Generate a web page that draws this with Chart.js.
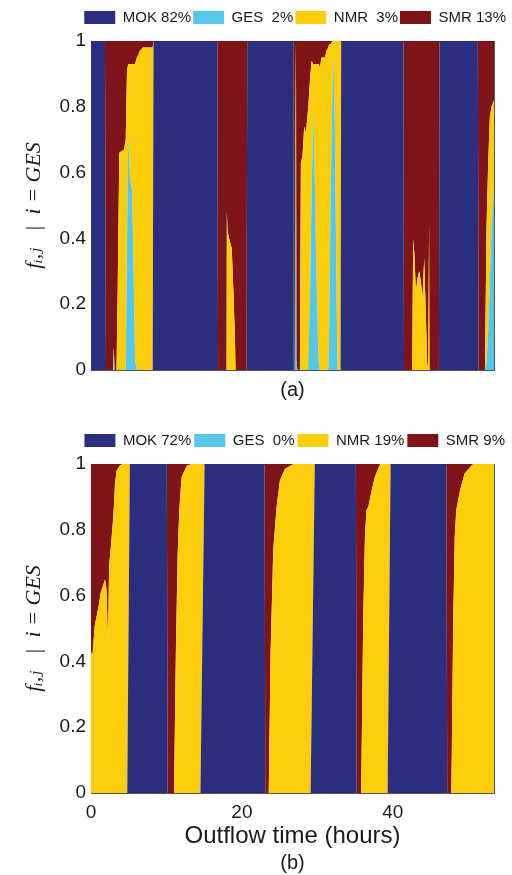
<!DOCTYPE html>
<html>
<head>
<meta charset="utf-8">
<script src="https://cdn.jsdelivr.net/npm/chart.js@4.4.1/dist/chart.umd.min.js"></script>
<style>
  html, body { margin: 0; padding: 0; background: #fff; }
  body { width: 512px; height: 875px; position: relative; overflow: hidden; }
  canvas { position: absolute; left: 0; }
  #chartA { top: 0; }
  #chartB { top: 423px; }
</style>
</head>
<body>
<canvas id="chartA" width="512" height="410"></canvas>
<canvas id="chartB" width="512" height="452"></canvas>
<script>
'use strict';

// fractions per sample (MOK stacked at the bottom, SMR on top)
var timeA = [0, 1.85, 1.99, 2.92, 3.02, 3.12, 3.38, 3.54, 3.75, 4.37,
  4.60, 4.77, 4.94, 5.17, 5.43, 5.63, 5.83, 6.09, 6.49, 6.89,
  8.17, 8.28, 16.75, 16.84, 17.95, 18.00, 18.10, 18.40, 18.65, 18.90,
  19.10, 19.20, 20.62, 20.70, 26.80, 26.86, 27.00, 27.06, 27.16, 27.22,
  27.35, 27.68, 27.81, 28.03, 28.25, 28.48, 28.79, 28.87, 29.01, 29.23,
  29.45, 29.67, 29.89, 30.16, 30.33, 30.55, 30.99, 31.21, 31.43, 31.57,
  31.75, 31.97, 32.10, 32.32, 32.54, 32.67, 33.07, 33.15, 41.40, 41.48,
  42.56, 42.69, 42.83, 43.05, 43.27, 43.49, 43.71, 43.93, 44.15, 44.33,
  44.55, 44.68, 44.80, 44.90, 46.10, 46.18, 51.26, 51.35, 52.20, 52.41,
  52.63, 52.85, 53.07, 53.40];
var mokA = [1, 1, 0, 0, 0, 0, 0, 0, 0, 0,
  0, 0, 0, 0, 0, 0, 0, 0, 0, 0,
  0, 1, 1, 0, 0, 0, 0, 0, 0, 0,
  0, 0, 0, 1, 1, 0, 0, 0, 0, 0,
  0, 0, 0, 0, 0, 0, 0, 0, 0, 0,
  0, 0, 0, 0, 0, 0, 0, 0, 0, 0,
  0, 0, 0, 0, 0, 0, 0, 1, 1, 0,
  0, 0, 0, 0, 0, 0, 0, 0, 0, 0,
  0, 0, 0, 0, 0, 1, 1, 0, 0, 0,
  0, 0, 0, 0];
var gesA = [0, 0, 0, 0, 0.07, 0, 0, 0, 0, 0,
  0, 0.40, 0.71, 0.58, 0.55, 0.33, 0.03, 0, 0, 0,
  0, 0, 0, 0, 0, 0, 0, 0, 0, 0,
  0, 0, 0, 0, 0, 0, 0, 1, 1, 0.03,
  0, 0, 0, 0, 0, 0, 0, 0, 0.22, 0.53,
  0.79, 0.56, 0.27, 0.02, 0, 0, 0, 0, 0, 0.12,
  0.53, 0.83, 0.96, 0.74, 0.22, 0, 0, 0, 0, 0,
  0, 0, 0, 0, 0, 0, 0, 0, 0, 0,
  0, 0, 0, 0, 0, 0, 0, 0, 0, 0.02,
  0.12, 0.27, 0.43, 0.55];
var nmrA = [0, 0, 0, 0, 0, 0, 0, 0.25, 0.66, 0.67,
  0.70, 0.51, 0.22, 0.35, 0.38, 0.60, 0.90, 0.95, 0.97, 0.98,
  0.98, 0, 0, 0, 0, 0.48, 0.42, 0.39, 0.37, 0.22,
  0.07, 0, 0, 0, 0, 0, 0, 0, 0, 0,
  0, 0, 0.63, 0.65, 0.74, 0.72, 0.80, 0.83, 0.66, 0.41,
  0.14, 0.37, 0.66, 0.91, 0.92, 0.95, 0.95, 0.97, 0.98, 0.87,
  0.46, 0.17, 0.04, 0.26, 0.78, 1, 1, 0, 0, 0,
  0, 0.40, 0.36, 0.24, 0.28, 0.30, 0.27, 0.22, 0.34, 0.20,
  0.02, 0, 0.45, 0, 0, 0, 0, 0, 0, 0.41,
  0.51, 0.50, 0.37, 0.27];
var smrA = [0, 0, 1, 1, 0.93, 1, 1, 0.75, 0.34, 0.33,
  0.30, 0.09, 0.07, 0.07, 0.07, 0.07, 0.07, 0.05, 0.03, 0.02,
  0.02, 0, 0, 1, 1, 0.52, 0.58, 0.61, 0.63, 0.78,
  0.93, 1, 1, 0, 0, 1, 1, 0, 0, 0.97,
  1, 1, 0.37, 0.35, 0.26, 0.28, 0.20, 0.17, 0.12, 0.06,
  0.07, 0.07, 0.07, 0.07, 0.08, 0.05, 0.05, 0.03, 0.02, 0.01,
  0.01, 0, 0, 0, 0, 0, 0, 0, 0, 1,
  1, 0.60, 0.64, 0.76, 0.72, 0.70, 0.73, 0.78, 0.66, 0.80,
  0.98, 1, 0.55, 1, 1, 0, 0, 1, 1, 0.57,
  0.37, 0.23, 0.20, 0.18];

var timeB = [0, 0.20, 0.50, 0.95, 1.30, 1.60, 1.85, 2.05, 2.25, 2.40,
  2.60, 2.96, 3.18, 3.40, 3.80, 4.10, 4.80, 5.15, 10.05, 10.15,
  11.00, 11.26, 11.48, 11.70, 12.00, 12.70, 13.20, 14.50, 15.05, 23.00,
  23.10, 23.55, 23.80, 24.15, 24.60, 25.03, 25.70, 26.80, 29.10, 29.65,
  35.10, 35.20, 35.80, 36.07, 36.30, 36.50, 36.75, 37.20, 37.60, 38.30,
  39.30, 39.70, 47.10, 47.20, 47.75, 48.00, 48.20, 48.40, 48.90, 49.50,
  50.60, 53.40];
var mokB = [0, 0, 0, 0, 0, 0, 0, 0, 0, 0,
  0, 0, 0, 0, 0, 0, 0, 1, 1, 0,
  0, 0, 0, 0, 0, 0, 0, 0, 1, 1,
  0, 0, 0, 0, 0, 0, 0, 0, 0, 1,
  1, 0, 0, 0, 0, 0, 0, 0, 0, 0,
  0, 1, 1, 0, 0, 0, 0, 0, 0, 0,
  0, 0];
var gesB = [0, 0, 0, 0, 0, 0, 0, 0, 0, 0,
  0, 0, 0, 0, 0, 0, 0, 0, 0, 0,
  0, 0, 0, 0, 0, 0, 0, 0, 0, 0,
  0, 0, 0, 0, 0, 0, 0, 0, 0, 0,
  0, 0, 0, 0, 0, 0, 0, 0, 0, 0,
  0, 0, 0, 0, 0, 0, 0, 0, 0, 0,
  0, 0];
var nmrB = [0.43, 0.42, 0.51, 0.56, 0.61, 0.63, 0.65, 0.62, 0.46, 0.69,
  0.74, 0.84, 0.94, 0.98, 0.995, 1, 1, 0, 0, 0,
  0, 0.45, 0.72, 0.86, 0.96, 0.995, 1, 1, 0, 0,
  0, 0, 0.43, 0.74, 0.87, 0.95, 0.985, 1, 1, 0,
  0, 0, 0, 0.53, 0.78, 0.86, 0.87, 0.92, 0.96, 1,
  1, 0, 0, 0, 0, 0.53, 0.78, 0.86, 0.92, 0.97,
  1, 1];
var smrB = [0.57, 0.58, 0.49, 0.44, 0.39, 0.37, 0.35, 0.38, 0.54, 0.31,
  0.26, 0.16, 0.06, 0.02, 0.005, 0, 0, 0, 0, 1,
  1, 0.55, 0.28, 0.14, 0.04, 0.005, 0, 0, 0, 0,
  1, 1, 0.57, 0.26, 0.13, 0.05, 0.015, 0, 0, 0,
  0, 1, 1, 0.47, 0.22, 0.14, 0.13, 0.08, 0.04, 0,
  0, 0, 0, 1, 1, 0.47, 0.22, 0.14, 0.08, 0.03,
  0, 0];

var legendA = ['MOK 82%', 'GES  2%', 'NMR  3%', 'SMR 13%'];
var legendB = ['MOK 72%', 'GES  0%', 'NMR 19%', 'SMR 9%'];
var yTicks = [0, 0.2, 0.4, 0.6, 0.8, 1];
var yTickLabels = ['0', '0.2', '0.4', '0.6', '0.8', '1'];
var xTicksB = [0, 20, 40];
var xMax = 53.4;

var seriesColors = ['#2b2e7f', '#55c8ea', '#fccd0a', '#7e1417'];
var frameColor = '#555555';
var textColor = '#1a1a1a';
var sans = "'Liberation Sans', Arial, sans-serif";

// each area is drawn from the running total of the series below it
function makeStack(times, parts, labels){
  var datasets = [];
  var running = times.map(function(){ return 0; });
  for (var i = 0; i < parts.length; i++){
    var part = parts[i];
    running = running.map(function(v, k){ return v + part[k]; });
    var top = running.slice();
    datasets.push({
      label: labels[i],
      data: times.map(function(t, k){ return {x: t, y: Math.min(top[k], 1)}; }),
      backgroundColor: seriesColors[i],
      borderColor: seriesColors[i],
      borderWidth: 0,
      pointRadius: 0,
      tension: 0,
      fill: i === 0 ? 'origin' : '-1',
    });
  }
  return datasets;
}

function makePanel(id, times, parts, labels, caption, bottomAxis, legendGap){
  var ctx = document.getElementById(id).getContext('2d');
  return new Chart(ctx, {
    type: 'line',
    data: { datasets: makeStack(times, parts, labels) },
    options: {
      responsive: false,
      animation: false,
      devicePixelRatio: 1,
      events: [],
      layout: { padding: { top: 10 - legendGap, right: 4, bottom: bottomAxis ? 0 : 8, left: 0 } },
      plugins: {
        legend: {
          position: 'top',
          align: 'end',
          labels: {
            boxWidth: 31,
            boxHeight: 13,
            padding: legendGap,
            color: textColor,
            font: { family: sans, size: 15 },
          },
        },
        title: {
          display: true,
          position: 'bottom',
          fullSize: false,
          text: caption,
          color: textColor,
          font: { family: sans, size: 20, weight: 'normal' },
          padding: 0,
        },
        tooltip: { enabled: false },
      },
      scales: {
        x: {
          type: 'linear',
          min: 0,
          max: xMax,
          grid: { display: false, drawTicks: false },
          border: { display: true, color: frameColor, width: 1 },
          afterBuildTicks: function(scale){
            scale.ticks = xTicksB.map(function(v){ return {value: v}; });
          },
          ticks: {
            display: bottomAxis,
            padding: 8,
            maxRotation: 0,
            autoSkip: false,
            color: textColor,
            font: { family: sans, size: 19 },
          },
          title: {
            display: bottomAxis,
            text: 'Outflow time (hours)',
            color: textColor,
            font: { family: sans, size: 24 },
            padding: { top: 0, bottom: 0 },
          },
          afterFit: function(scale){ scale.height = bottomAxis ? 58 : 8; },
        },
        xTop: {
          type: 'linear',
          position: 'top',
          min: 0,
          max: xMax,
          grid: { display: false, drawTicks: false },
          ticks: { display: false },
          border: { display: true, color: frameColor, width: 1 },
          afterFit: function(scale){ scale.height = 6; },
        },
        y: {
          min: 0,
          max: 1,
          afterBuildTicks: function(scale){
            scale.ticks = yTicks.map(function(v){ return {value: v}; });
          },
          grid: { display: false, drawTicks: false },
          border: { display: true, color: frameColor, width: 1 },
          ticks: {
            padding: 5,
            color: textColor,
            font: { family: sans, size: 19 },
            callback: function(value){
              var k = yTicks.indexOf(value);
              return k > -1 ? yTickLabels[k] : '';
            },
          },
          title: {
            display: true,
            text: 'f\u1d62,\u2c7c   |  i = GES',
            color: textColor,
            font: { family: "'Liberation Serif', 'DejaVu Serif', serif", size: 22, style: 'italic' },
            padding: { top: 21, bottom: 0 },
          },
          afterFit: function(scale){ scale.width = 91; },
        },
        yRight: {
          position: 'right',
          min: 0,
          max: 1,
          grid: { display: false, drawTicks: false },
          ticks: { display: false },
          border: { display: true, color: frameColor, width: 1 },
          afterFit: function(scale){ scale.width = 14; },
        },
      },
    },
  });
}

makePanel('chartA', timeA, [mokA, gesA, nmrA, smrA], legendA, '(a)', false, 2);
makePanel('chartB', timeB, [mokB, gesB, nmrB, smrB], legendB, '(b)', true, 3);
</script>
</body>
</html>
